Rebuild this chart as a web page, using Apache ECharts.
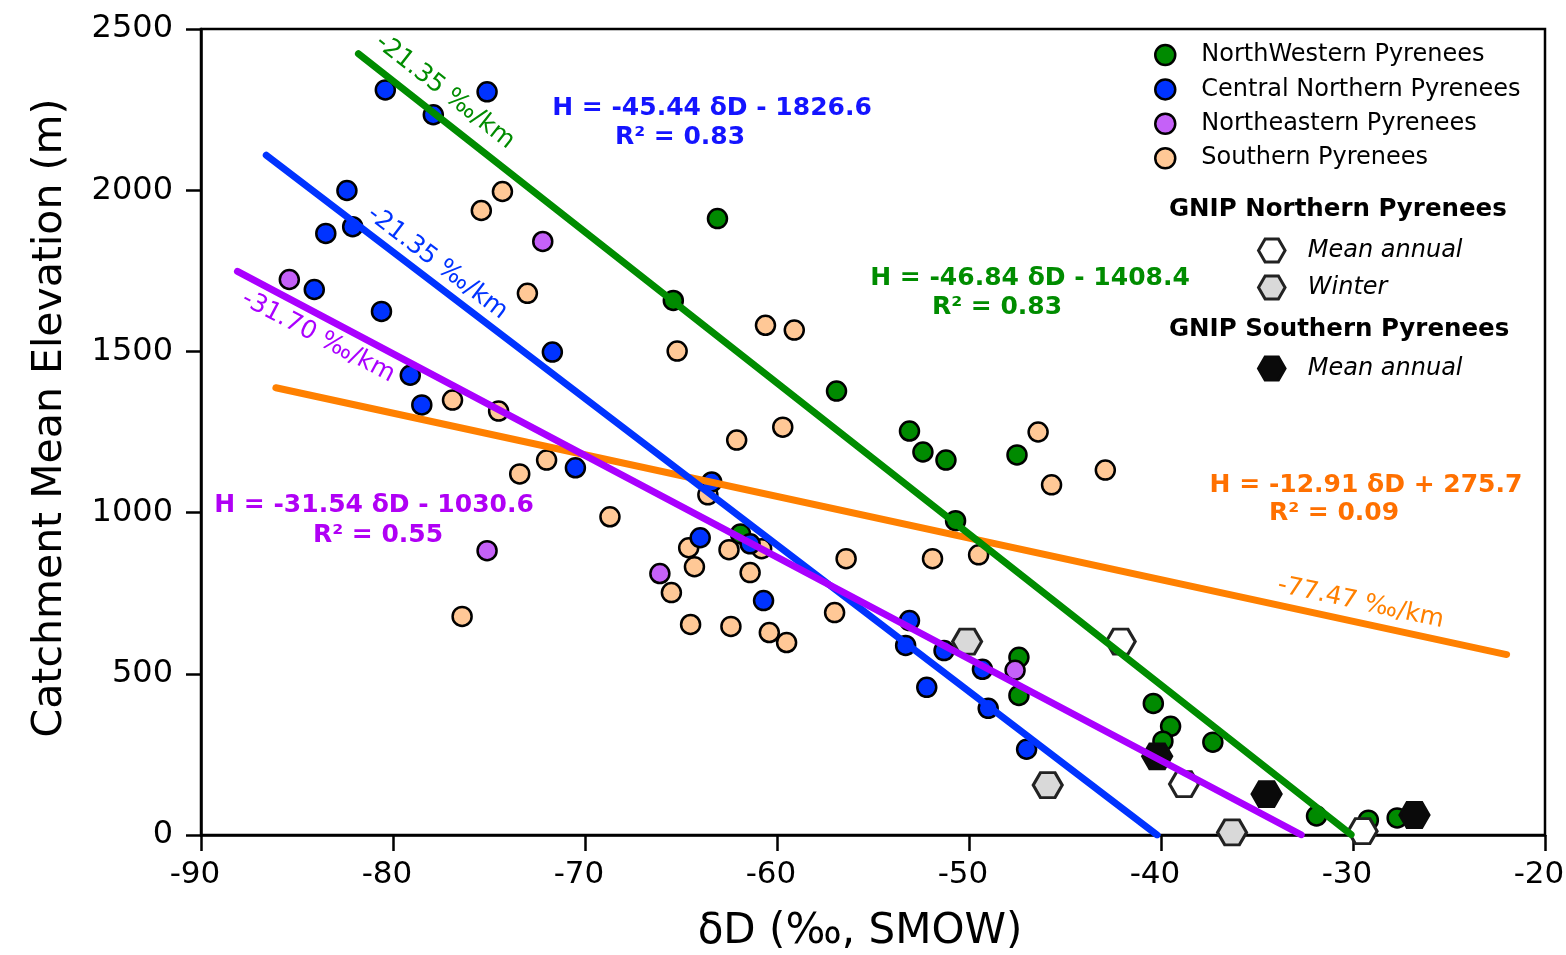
<!DOCTYPE html>
<html>
<head>
<meta charset="utf-8">
<title>Catchment mean elevation vs δD</title>
<script src="https://cdn.jsdelivr.net/npm/echarts@6/dist/echarts.min.js"></script>
<style>
  html, body { margin: 0; padding: 0; background: #ffffff; }
  #chart { width: 1566px; height: 955px; }
</style>
</head>
<body>
<div id="chart"></div>
<script>
// ---- Data: [δD (‰ SMOW), catchment mean elevation (m)] ----
const northWesternPts = [
  [-63.1, 1912], [-65.4, 1658], [-56.9, 1377], [-53.1, 1253], [-52.4, 1188],
  [-51.2, 1163], [-47.5, 1179], [-50.7, 975], [-61.9, 934], [-47.4, 551],
  [-47.4, 433], [-40.4, 408], [-39.5, 337], [-39.9, 291], [-37.3, 288],
  [-31.9, 59], [-29.2, 46], [-27.7, 53]
];
const centralNorthernPts = [
  [-80.4, 2311], [-75.1, 2305], [-77.9, 2234], [-82.4, 1999], [-83.5, 1866],
  [-82.1, 1887], [-84.1, 1692], [-80.6, 1624], [-71.7, 1498], [-79.1, 1426],
  [-78.5, 1334], [-70.5, 1139], [-63.4, 1095], [-64.0, 922], [-61.4, 903],
  [-60.7, 727], [-53.1, 665], [-53.3, 588], [-51.3, 572], [-49.3, 514],
  [-52.2, 458], [-49.0, 393], [-47.0, 266]
];
const northeasternPts = [
  [-85.4, 1723], [-72.2, 1841], [-75.1, 882], [-66.1, 811], [-47.6, 511]
];
const southernPts = [
  [-74.3, 1996], [-75.4, 1937], [-73.0, 1680], [-60.6, 1581], [-59.1, 1566],
  [-65.2, 1501], [-76.9, 1349], [-74.5, 1315], [-62.1, 1225], [-59.7, 1265],
  [-46.4, 1250], [-42.9, 1132], [-45.7, 1086], [-72.0, 1163], [-73.4, 1120],
  [-68.7, 987], [-63.6, 1055], [-64.6, 891], [-62.5, 885], [-60.8, 888],
  [-64.3, 832], [-61.4, 814], [-65.5, 752], [-56.4, 857], [-57.0, 690],
  [-51.9, 857], [-49.5, 869], [-76.4, 678], [-64.5, 653], [-62.4, 647],
  [-60.4, 628], [-59.5, 597]
];
const gnipNorthAnnual = [[-42.1, 600], [-38.8, 158], [-29.5, 12]];
const gnipNorthWinter = [[-50.1, 600], [-45.9, 155], [-36.3, 8]];
const gnipSouthAnnual = [[-40.2, 244], [-34.5, 127], [-26.8, 62]];

// Regression fits, H = slope * δD + intercept (order: NW, Central N, NE, Southern)
const fitSlopes = [-46.84, -45.44, -31.54, -12.91];
const fitIntercepts = [-1408.4, -1826.6, -1030.6, 275.7];
const fitR2 = [0.83, 0.83, 0.55, 0.09];
const fitRanges = [[-81.8, -30.1], [-86.6, -40.2], [-88.1, -32.7], [-86.1, -22.0]];
const lapseLabels = ['-21.35 ‰/km', '-21.35 ‰/km', '-31.70 ‰/km', '-77.47 ‰/km'];

// Axis ticks
const xTicks = { min: -90, max: -20, step: 10 };
const yTicks = { min: 0, max: 2500, step: 500 };

// ---- Styling / layout ----
const FONT = '"DejaVu Sans", Verdana, sans-serif';
const lineColors = ['#008c00', '#0033ff', '#aa00ff', '#ff8000'];
const textColors = ['#008c00', '#1414ff', '#b000f5', '#ff7000'];
const markerFills = ['#008a00', '#0033ff', '#c561f8', '#ffc896'];
const HEX = 'path://M0,433 L250,0 L750,0 L1000,433 L750,866 L250,866 Z';
// slope-label anchors in data space (centre of each label)
const lapseAnchors = [[-77.3, 2305], [-77.7, 1774], [-83.9, 1545], [-29.6, 720]];
// equation label centres in pixels: [line1 x, line1 y, line2 x, line2 y]
const eqPos = [[1030, 278, 997, 307], [712, 108, 680, 137], [374, 505, 378, 535], [1366, 485, 1334, 513]];

const seriesNames = ['NorthWestern Pyrenees', 'Central Northern Pyrenees', 'Northeastern Pyrenees', 'Southern Pyrenees'];
const gnipNames = { nAnnual: 'GNIP N Mean annual', nWinter: 'GNIP N Winter', sAnnual: 'GNIP S Mean annual' };
const gnipLabels = { 'GNIP N Mean annual': 'Mean annual', 'GNIP N Winter': 'Winter', 'GNIP S Mean annual': 'Mean annual' };

function circleSeries(name, data, fill) {
  return {
    type: 'scatter', name, data, symbol: 'circle', symbolSize: 19,
    itemStyle: { color: fill, borderColor: '#000', borderWidth: 2.5, opacity: 1 },
    silent: true, animation: false
  };
}
function hexSeries(name, data, fill, stroke) {
  return {
    type: 'scatter', name, data, symbol: HEX, symbolSize: [29, 25],
    itemStyle: { color: fill, borderColor: stroke, borderWidth: 3, opacity: 1 },
    silent: true, animation: false
  };
}
function fitSeries(i) {
  const m = fitSlopes[i], b = fitIntercepts[i];
  return {
    type: 'line', name: 'fit' + i,
    data: fitRanges[i].map(x => [x, m * x + b]),
    symbol: 'none', showSymbol: false, silent: true, animation: false,
    lineStyle: { color: lineColors[i], width: 7, cap: 'round' }
  };
}

const axisCommon = {
  type: 'value',
  axisLine: { show: true, onZero: false, lineStyle: { color: '#000', width: 2.5 } },
  axisTick: { show: true, inside: false, lineStyle: { color: '#000', width: 2.5 } },
  splitLine: { show: false },
  axisLabel: { color: '#000', fontSize: 32, fontFamily: FONT, formatter: v => String(v) }
};

const option = {
  backgroundColor: '#ffffff',
  animation: false,
  grid: {
    left: 201, right: 21, top: 29, bottom: 120,
    show: true, borderColor: '#000', borderWidth: 2.5, backgroundColor: 'transparent',
    containLabel: false, outerBoundsMode: 'none'
  },
  xAxis: Object.assign({}, axisCommon, {
    min: xTicks.min, max: xTicks.max, interval: xTicks.step,
    axisTick: Object.assign({}, axisCommon.axisTick, { length: 16 }),
    axisLabel: Object.assign({}, axisCommon.axisLabel, { margin: 24, fontSize: 31, padding: [0, 12, 0, 0] })
  }),
  yAxis: Object.assign({}, axisCommon, {
    min: yTicks.min, max: yTicks.max, interval: yTicks.step,
    axisTick: Object.assign({}, axisCommon.axisTick, { length: 15 }),
    axisLabel: Object.assign({}, axisCommon.axisLabel, { margin: 28 })
  }),
  legend: [
    {
      data: seriesNames, orient: 'vertical', left: 1154, top: 43, padding: 0,
      itemWidth: 62, itemHeight: 20, itemGap: 10.4, selectedMode: false,
      itemStyle: { borderColor: '#000', borderWidth: 2.5 },
      textStyle: { fontSize: 24, fontFamily: FONT, color: '#000', lineHeight: 20 }
    },
    {
      data: [gnipNames.nAnnual, gnipNames.nWinter], orient: 'vertical', left: 1257, top: 237.5, padding: 0,
      itemWidth: 62, itemHeight: 23, itemGap: 11, selectedMode: false,
      itemStyle: { borderColor: '#222', borderWidth: 3 },
      formatter: n => gnipLabels[n],
      textStyle: { fontSize: 24, fontFamily: FONT, fontStyle: 'italic', color: '#000', lineHeight: 22 }
    },
    {
      data: [gnipNames.sAnnual], orient: 'vertical', left: 1257, top: 355.5, padding: 0,
      itemWidth: 62, itemHeight: 23, itemGap: 11, selectedMode: false,
      itemStyle: { borderColor: '#0a0a0a', borderWidth: 3 },
      formatter: n => gnipLabels[n],
      textStyle: { fontSize: 24, fontFamily: FONT, fontStyle: 'italic', color: '#000', lineHeight: 22 }
    }
  ],
  series: [
    circleSeries(seriesNames[3], southernPts, markerFills[3]),
    fitSeries(3), fitSeries(1), fitSeries(2), fitSeries(0),
    circleSeries(seriesNames[0], northWesternPts, markerFills[0]),
    circleSeries(seriesNames[1], centralNorthernPts, markerFills[1]),
    circleSeries(seriesNames[2], northeasternPts, markerFills[2]),
    hexSeries(gnipNames.nWinter, gnipNorthWinter, '#d9d9d9', '#222'),
    hexSeries(gnipNames.nAnnual, gnipNorthAnnual, '#ffffff', '#222'),
    hexSeries(gnipNames.sAnnual, gnipSouthAnnual, '#0a0a0a', '#0a0a0a')
  ]
};

const chart = echarts.init(document.getElementById('chart'), null, { renderer: 'canvas' });
chart.setOption(option);

// ---- Annotations: fit equations, lapse-rate labels, axis titles, legend headings ----
const toPx = p => chart.convertToPixel({ gridIndex: 0 }, p);
function txt(x, y, text, fill, font, extra) {
  return Object.assign({
    type: 'text', x, y, z: 100, silent: true,
    style: { text, fill, font, textAlign: 'center', textVerticalAlign: 'middle', align: 'center', verticalAlign: 'middle' }
  }, extra || {});
}
const fmtEq = i => {
  const b = fitIntercepts[i];
  return 'H = ' + fitSlopes[i].toFixed(2) + ' δD ' + (b < 0 ? '- ' : '+ ') + Math.abs(b).toFixed(1);
};

const graphics = [];
fitSlopes.forEach((m, i) => {
  const b = fitIntercepts[i];
  const [xa, xb] = fitRanges[i];
  const pa = toPx([xa, m * xa + b]);
  const pb = toPx([xb, m * xb + b]);
  const ang = Math.atan2(pb[1] - pa[1], pb[0] - pa[0]);
  const c = toPx(lapseAnchors[i]);
  graphics.push(txt(c[0], c[1], lapseLabels[i], lineColors[i], '25px ' + FONT, { rotation: -ang }));
  const e = eqPos[i];
  graphics.push(txt(e[0], e[1], fmtEq(i), textColors[i], 'bold 25px ' + FONT));
  graphics.push(txt(e[2], e[3], 'R² = ' + fitR2[i].toFixed(2), textColors[i], 'bold 25px ' + FONT));
});

graphics.push(txt(860, 932, 'δD (‰, SMOW)', '#000', '42px ' + FONT));
graphics.push(txt(50, 418, 'Catchment Mean Elevation (m)', '#000', '41px ' + FONT, { rotation: Math.PI / 2 }));

const headStyle = (y, text) => ({
  type: 'text', x: 1169, y, z: 100, silent: true,
  style: { text, fill: '#000', font: 'bold 24.5px ' + FONT, textAlign: 'left', textVerticalAlign: 'middle', align: 'left', verticalAlign: 'middle' }
});
graphics.push(headStyle(210, 'GNIP Northern Pyrenees'));
graphics.push(headStyle(330, 'GNIP Southern Pyrenees'));

chart.setOption({ graphic: graphics });
</script>
</body>
</html>
